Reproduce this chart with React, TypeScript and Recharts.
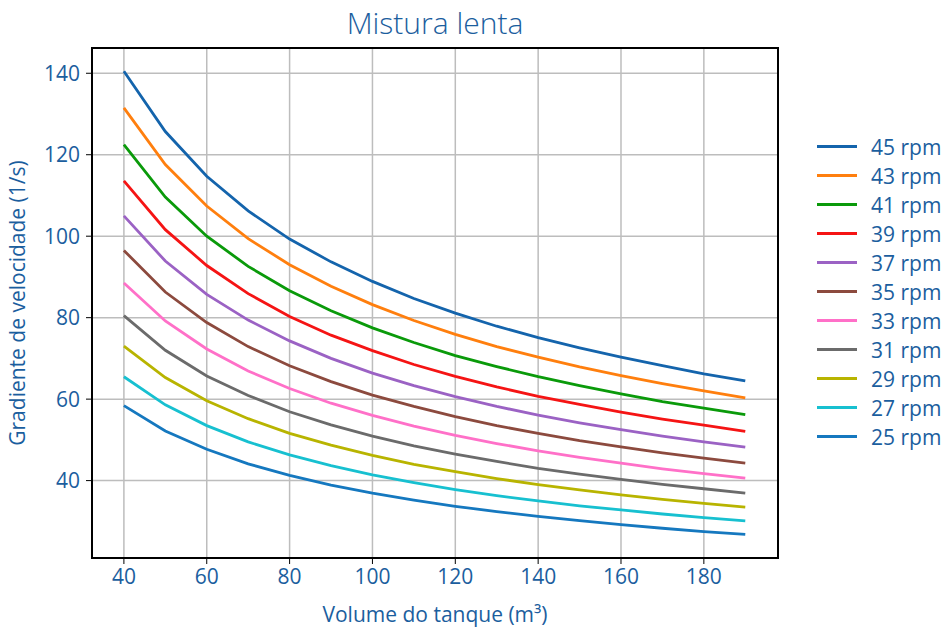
import React from "react";
import {
  LineChart,
  Line,
  XAxis,
  YAxis,
  CartesianGrid,
  ReferenceArea,
} from "recharts";

const volumes = [40, 50, 60, 70, 80, 90, 100, 110, 120, 130, 140, 150, 160, 170, 180, 190];

const rpm45 = [140.5, 125.7, 114.7, 106.2, 99.3, 93.7, 88.9, 84.7, 81.1, 77.9, 75.1, 72.6, 70.3, 68.2, 66.2, 64.5];
const rpm43 = [131.5, 117.6, 107.4, 99.4, 93.0, 87.7, 83.2, 79.3, 75.9, 72.9, 70.3, 67.9, 65.8, 63.8, 62.0, 60.3];
const rpm41 = [122.5, 109.6, 100.0, 92.6, 86.6, 81.7, 77.5, 73.9, 70.7, 68.0, 65.5, 63.3, 61.3, 59.4, 57.8, 56.2];
const rpm39 = [113.6, 101.6, 92.8, 85.9, 80.3, 75.7, 71.9, 68.5, 65.6, 63.0, 60.7, 58.7, 56.8, 55.1, 53.6, 52.1];
const rpm37 = [105.0, 93.9, 85.7, 79.4, 74.3, 70.0, 66.4, 63.3, 60.6, 58.2, 56.1, 54.2, 52.5, 50.9, 49.5, 48.2];
const rpm35 = [96.5, 86.3, 78.8, 72.9, 68.2, 64.3, 61.0, 58.2, 55.7, 53.5, 51.6, 49.8, 48.3, 46.8, 45.5, 44.3];
const rpm33 = [88.5, 79.2, 72.3, 66.9, 62.6, 59.0, 56.0, 53.4, 51.1, 49.1, 47.3, 45.7, 44.3, 42.9, 41.7, 40.6];
const rpm31 = [80.5, 72.0, 65.7, 60.9, 56.9, 53.7, 50.9, 48.5, 46.5, 44.7, 43.0, 41.6, 40.3, 39.1, 38.0, 36.9];
const rpm29 = [73.0, 65.3, 59.6, 55.2, 51.6, 48.7, 46.2, 44.0, 42.2, 40.5, 39.0, 37.7, 36.5, 35.4, 34.4, 33.5];
const rpm27 = [65.5, 58.6, 53.5, 49.5, 46.3, 43.7, 41.4, 39.5, 37.8, 36.3, 35.0, 33.8, 32.8, 31.8, 30.9, 30.1];
const rpm25 = [58.4, 52.2, 47.7, 44.1, 41.3, 38.9, 36.9, 35.2, 33.7, 32.4, 31.2, 30.2, 29.2, 28.3, 27.5, 26.8];

const xTicks = [40, 60, 80, 100, 120, 140, 160, 180];
const yTicks = [40, 60, 80, 100, 120, 140];

const series = [
  { key: "r45", name: "45 rpm", values: rpm45, color: "#1464ac" },
  { key: "r43", name: "43 rpm", values: rpm43, color: "#ff7f0e" },
  { key: "r41", name: "41 rpm", values: rpm41, color: "#0a9a0a" },
  { key: "r39", name: "39 rpm", values: rpm39, color: "#f51414" },
  { key: "r37", name: "37 rpm", values: rpm37, color: "#9b62c4" },
  { key: "r35", name: "35 rpm", values: rpm35, color: "#8c4a3e" },
  { key: "r33", name: "33 rpm", values: rpm33, color: "#ff70c8" },
  { key: "r31", name: "31 rpm", values: rpm31, color: "#6b6b6b" },
  { key: "r29", name: "29 rpm", values: rpm29, color: "#b8b400" },
  { key: "r27", name: "27 rpm", values: rpm27, color: "#17c0d0" },
  { key: "r25", name: "25 rpm", values: rpm25, color: "#1578bf" },
];

const data = volumes.map((v, i) => {
  const row: Record<string, number> = { volume: v };
  series.forEach((s) => {
    row[s.key] = s.values[i];
  });
  return row;
});

const BLUE = "#1b5e9e";
const FONT = "'Open Sans', 'Noto Sans', sans-serif";
const X_DOMAIN = [32.3, 197.9];
const Y_DOMAIN = [21, 146.2];

export default function App() {
  return (
    <div style={{ position: "absolute", left: 0, top: 0, width: 952, height: 628, background: "#fff" }}>
      <div
        style={{
          position: "absolute",
          left: 92,
          width: 686,
          top: 2,
          textAlign: "center",
          fontFamily: FONT,
          fontWeight: 300,
          fontSize: 30,
          color: BLUE,
        }}
      >
        Mistura lenta
      </div>
      <LineChart
        width={952}
        height={628}
        data={data}
        margin={{ top: 48, right: 174, bottom: 0, left: 0 }}
        style={{ fontFamily: FONT }}
      >
        <CartesianGrid stroke="#bdbdbd" strokeWidth={1.5} />
        <XAxis
          dataKey="volume"
          type="number"
          domain={X_DOMAIN}
          ticks={xTicks}
          allowDataOverflow
          height={70}
          stroke="#000"
          tickSize={6}
          tickMargin={5}
          tick={{ fill: BLUE, fontSize: 21 }}
          label={{ value: "Volume do tanque (m³)", position: "insideBottom", offset: 6, fill: BLUE, fontSize: 21 }}
        />
        <YAxis
          type="number"
          domain={Y_DOMAIN}
          ticks={yTicks}
          allowDataOverflow
          width={92}
          stroke="#000"
          tickSize={6}
          tickMargin={6}
          tick={{ fill: BLUE, fontSize: 21 }}
          label={{
            value: "Gradiente de velocidade (1/s)",
            angle: -90,
            position: "insideLeft",
            offset: 18,
            fill: BLUE,
            fontSize: 21,
            style: { textAnchor: "middle" },
          }}
        />
        <ReferenceArea
          x1={X_DOMAIN[0]}
          x2={X_DOMAIN[1]}
          y1={Y_DOMAIN[0]}
          y2={Y_DOMAIN[1]}
          fill="none"
          stroke="#000"
          strokeWidth={2}
          ifOverflow="visible"
        />
        {series.map((s) => (
          <Line
            key={s.key}
            dataKey={s.key}
            name={s.name}
            stroke={s.color}
            strokeWidth={2.8}
            dot={false}
            type="linear"
            isAnimationActive={false}
          />
        ))}
      </LineChart>
      <div style={{ position: "absolute", left: 817, top: 132, fontFamily: FONT }}>
        {series.map((s) => (
          <div key={s.key} style={{ display: "flex", alignItems: "center", height: 29 }}>
            <div style={{ width: 40, height: 3.5, background: s.color, marginRight: 14 }} />
            <span style={{ color: BLUE, fontSize: 21 }}>{s.name}</span>
          </div>
        ))}
      </div>
    </div>
  );
}
